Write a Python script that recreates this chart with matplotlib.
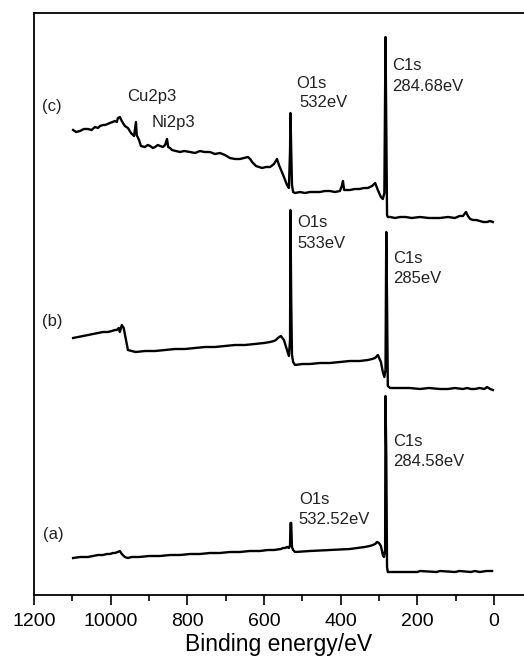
import numpy as np
import matplotlib.pyplot as plt
from matplotlib.ticker import MultipleLocator, FixedLocator

plt.rcParams['font.family'] = ['Liberation Sans', 'DejaVu Sans']

# XPS survey spectra, binding energy (eV) vs intensity (arb. units)
energy_c = [1098, 1090, 1080, 1070, 1059, 1050, 1041, 1033, 1028, 1020, 1015, 1008, 1002, 995,
            989, 984, 981, 976, 971, 963, 955, 947, 939, 934, 932, 926, 921, 911, 903, 897,
            890, 884, 877, 871, 864, 858, 853, 850, 845, 840, 830, 819, 808, 793, 780, 767,
            755, 741, 728, 715, 702, 689, 676, 663, 652, 642, 636, 631, 621, 613, 605, 595,
            584, 574, 566, 561, 550, 540, 535, 532, 531, 529, 527, 524, 519, 506, 493, 480,
            467, 454, 441, 428, 415, 402, 397, 394, 391, 376, 363, 350, 340, 329, 318, 310,
            303, 295, 290, 286, 283, 281, 279, 277, 271, 258, 245, 230, 215, 193, 170, 141,
            120, 102, 90, 81, 73, 68, 62, 55, 46, 37, 28, 18, 10, 3]
inten_c = [465, 463, 464, 466, 466, 465, 468, 467, 469, 470, 470, 471, 472, 473,
           474, 473, 477, 478, 474, 469, 467, 462, 459, 473, 460, 455, 449, 448, 450, 449,
           447, 448, 450, 449, 448, 450, 456, 448, 447, 445, 444, 443, 444, 443, 442, 444,
           443, 443, 441, 442, 440, 437, 436, 436, 437, 438, 436, 433, 429, 428, 427, 428,
           428, 431, 436, 430, 420, 410, 407, 445, 482, 445, 410, 403, 402, 403, 402, 403,
           403, 403, 404, 404, 403, 404, 409, 414, 405, 405, 406, 406, 407, 407, 409, 412,
           405, 398, 396, 402, 558, 470, 380, 378, 378, 377, 378, 378, 377, 378, 377, 377,
           378, 377, 379, 379, 383, 379, 376, 375, 375, 374, 373, 373, 374, 373]

energy_b = [1098, 1085, 1072, 1059, 1046, 1033, 1020, 1007, 997, 989, 984, 979, 976, 971, 966,
            960, 955, 935, 910, 884, 858, 832, 806, 780, 754, 728, 702, 676, 650, 624, 600,
            584, 574, 569, 564, 556, 548, 540, 535, 532, 531, 529, 527, 524, 519, 500, 480,
            454, 428, 402, 376, 350, 329, 318, 310, 303, 295, 290, 286, 283, 281, 279, 277,
            271, 250, 220, 193, 170, 141, 120, 102, 81, 70, 60, 50, 37, 25, 18, 10, 3]
inten_b = [257, 258, 259, 260, 261, 262, 263, 263, 264, 265, 265, 267, 263, 270, 267,
           255, 245, 243, 244, 244, 245, 246, 246, 247, 248, 248, 249, 250, 250, 251, 252,
           253, 254, 255, 257, 259, 255, 245, 239, 255, 385, 295, 240, 233, 230, 231, 231,
           232, 232, 233, 234, 234, 235, 236, 237, 240, 233, 223, 218, 225, 363, 295, 209,
           207, 207, 207, 206, 207, 206, 206, 207, 206, 207, 206, 206, 207, 206, 208, 206, 205]

energy_a = [1098, 1080, 1059, 1046, 1033, 1020, 1010, 1002, 994, 989, 981, 976, 971, 963,
            955, 945, 925, 900, 871, 845, 819, 793, 767, 741, 715, 689, 663, 637, 611, 590,
            574, 556, 550, 545, 540, 535, 532, 531, 529, 527, 524, 519, 480, 428, 376, 337,
            324, 316, 310, 305, 300, 295, 290, 287, 284, 283, 281, 279, 277, 250, 200, 193,
            150, 141, 102, 90, 60, 50, 37, 20, 5]
inten_a = [37, 38, 38, 39, 40, 40, 41, 41, 42, 42, 43, 44, 41, 38,
           37, 38, 38, 39, 39, 40, 40, 41, 41, 42, 42, 43, 43, 44, 44, 45,
           45, 46, 47, 47, 48, 47, 50, 72, 72, 48, 45, 43, 44, 45, 46, 48,
           49, 50, 51, 53, 52, 49, 40, 38, 45, 199, 140, 28, 23, 23, 23, 24,
           23, 24, 23, 24, 23, 24, 23, 24, 24]

labels = [
    ('(c)', 1179, 488), ('Cu2p3', 958, 498), ('Ni2p3', 892, 472),
    ('O1s', 515, 511), ('532eV', 507, 492), ('C1s', 266, 529), ('284.68eV', 266, 508),
    ('O1s', 512, 372), ('533eV', 512, 351), ('C1s', 263, 336), ('285eV', 263, 316),
    ('(b)', 1179, 273),
    ('C1s', 263, 154), ('284.58eV', 263, 134), ('O1s', 509, 96), ('532.52eV', 509, 75),
    ('(a)', 1177, 60),
]

fig = plt.figure(figsize=(5.24, 6.67), dpi=100)
ax = fig.add_axes([34 / 524, 72 / 667, 490 / 524, 582 / 667])

for e, i in [(energy_c, inten_c), (energy_b, inten_b), (energy_a, inten_a)]:
    ax.plot(e, i, color='black', lw=1.7, solid_joinstyle='round')

for txt, x, y in labels:
    ax.text(x, y, txt, fontsize=12, ha='left', va='center', color='#222222')

ax.set_xlim(1200, -78.3)
ax.set_ylim(0, 582)
ax.spines['right'].set_visible(False)
for s in ['left', 'top', 'bottom']:
    ax.spines[s].set_linewidth(1.3)
ax.set_yticks([])
ax.xaxis.set_major_locator(FixedLocator([1200, 1000, 800, 600, 400, 200, 0]))
ax.set_xticklabels(['1200', '10000', '800', '600', '400', '200', '0'])
ax.xaxis.set_minor_locator(MultipleLocator(100))
ax.tick_params(axis='x', which='major', direction='out', length=7, width=1.2, labelsize=14, pad=6)
ax.tick_params(axis='x', which='minor', direction='out', length=4.5, width=1.2)
ax.set_xlabel('Binding energy/eV', fontsize=16.5, labelpad=2)

fig.savefig('out.png', dpi=100)
